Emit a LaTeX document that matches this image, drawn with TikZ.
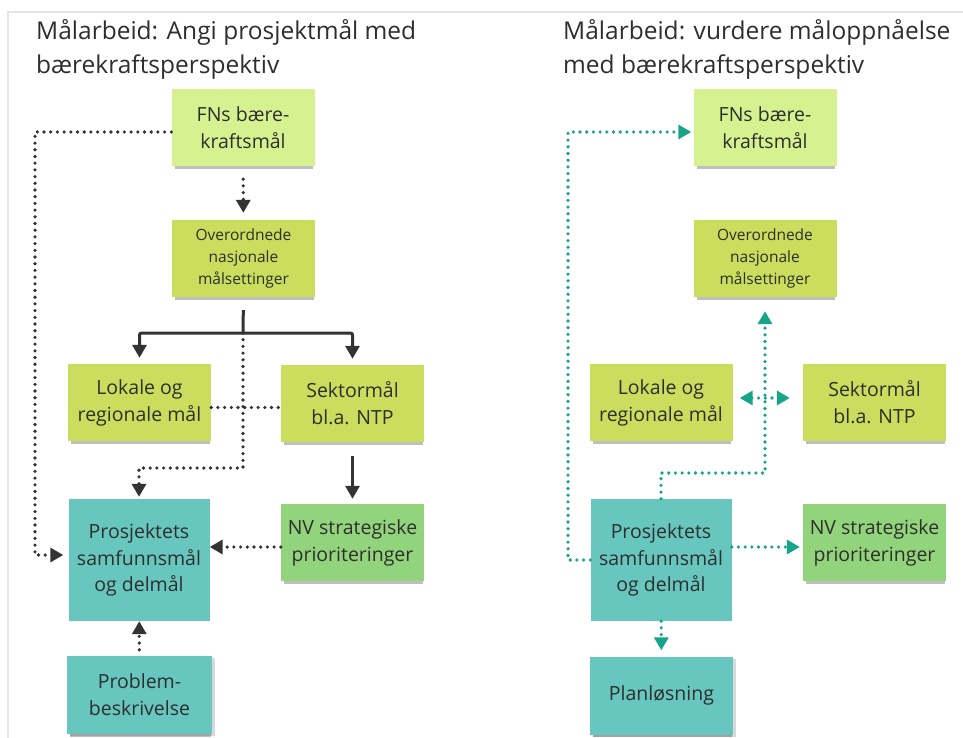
\documentclass[tikz,border=0pt]{standalone}
\usepackage{fontspec}
\setmainfont{Open Sans}
\usetikzlibrary{arrows.meta,shadows}
\definecolor{framegray}{HTML}{E6E6E6}
\definecolor{textgray}{HTML}{2E2E2E}
\definecolor{arrowgray}{HTML}{333333}
\definecolor{arrowteal}{HTML}{17A589}
\definecolor{fnsgreen}{HTML}{D6F290}
\definecolor{limegreen}{HTML}{CADD5C}
\definecolor{nvgreen}{HTML}{92D47B}
\definecolor{projteal}{HTML}{67C7BE}

\begin{document}
\begin{tikzpicture}[x=1pt, y=-1pt,
    note/.style={rectangle, minimum width=143pt, minimum height=77pt, align=center,
                 text=textgray, inner sep=2pt, font=\fontsize{19.5}{27}\selectfont,
                 drop shadow={shadow xshift=1pt, shadow yshift=-4pt, shadow scale=0.97,
                              opacity=0.25, fill=black}},
    smallnote/.style={note, font=\fontsize{15.5}{22}\selectfont},
    flat/.style={rectangle, minimum width=141pt, minimum height=122pt, align=center,
                 text=textgray, inner sep=2pt, font=\fontsize{19.5}{26.5}\selectfont},
    title/.style={anchor=north west, align=left, inner sep=0pt, text=textgray,
                  font=\fontsize{24.5}{34}\selectfont},
    solidarr/.style={-{Triangle[length=13pt, width=14pt]}, line width=3pt, arrowgray},
    solidline/.style={line width=3pt, arrowgray},
    dotline/.style={line width=3.6pt, line cap=round, dash pattern=on 0pt off 6.7pt, arrowgray},
    dotarr/.style={dotline, -{Triangle[length=13pt, width=14pt]}},
    tealarr/.style={dotline, arrowteal, -{Triangle[length=13pt, width=14pt]}},
    tealdbl/.style={dotline, arrowteal, {Triangle[length=13pt, width=14pt]}-{Triangle[length=13pt, width=14pt]}}
]
\fill[white] (0,0) rectangle (963,738);
\useasboundingbox (0,0) rectangle (963,738);
\draw[framegray, line width=2pt] (963,12) -- (8,12) -- (8,738);

% Left panel: angi prosjektmaal
\node[title] (titleL) at (36,19) {Målarbeid: Angi prosjektmål med\\bærekraftsperspektiv};

\node[note, fill=fnsgreen] (fns) at (243,127.5) {FNs bære-\\kraftsmål};
\node[smallnote, fill=limegreen] (ovr) at (243.5,258.5) {Overordnede\\nasjonale\\målsettinger};
\node[note, fill=limegreen] (lok) at (139.5,402.5) {Lokale og\\regionale mål};
\node[note, fill=limegreen] (sek) at (352.5,403.5) {Sektormål\\bl.a. NTP};
\node[flat, fill=projteal] (pro) at (139,560) {Prosjektets\\samfunnsmål\\og delmål};
\node[note, fill=nvgreen] (nvs) at (352.5,542.5) {NV strategiske\\prioriteringer};
\node[note, fill=projteal, minimum width=145pt, minimum height=78pt,
      drop shadow={shadow yshift=-2pt, opacity=0.15, fill=black}] (prb) at (139.5,695) {Problem-\\beskrivelse};

\coordinate (split) at (243,333);
\coordinate (crossl) at (243,468);
\coordinate (leftrail) at (35,132);

\draw[dotarr, shorten <=13pt, shorten >=7pt] (fns) -- (ovr);
\draw[solidline, shorten <=13pt] (ovr.south) -- (split);
\draw[solidarr, rounded corners=2pt, shorten >=6pt] (split) -| (lok.north);
\draw[solidarr, rounded corners=2pt, shorten >=6pt] (split) -| (sek.north);
\draw[dotarr, shorten >=2pt] (split) -- (crossl) -| (pro.north);
\draw[dotline] ([yshift=-5pt]lok.east) -- ([yshift=-5pt]lok.east -| sek.west);
\draw[dotarr, shorten >=5pt] ([yshift=-4.5pt]fns.west) -| (leftrail) |- ([yshift=5pt]pro.west);
\draw[solidarr, shorten <=14pt, shorten >=5pt] (sek) -- (nvs);
\draw[dotarr] ([yshift=-4.5pt]nvs.west) -- ([yshift=-4.5pt]nvs.west -| pro.east);
\draw[dotarr, shorten <=6pt] (prb) -- (pro);

% Right panel: vurdere maaloppnaaelse
\node[title] (titleR) at (563,19) {Målarbeid: vurdere måloppnåelse\\med bærekraftsperspektiv};

\node[note, fill=fnsgreen] (fns2) at (765,128) {FNs bære-\\kraftsmål};
\node[smallnote, fill=limegreen] (ovr2) at (765,258.5) {Overordnede\\nasjonale\\målsettinger};
\node[note, fill=limegreen] (lok2) at (661,402.5) {Lokale og\\regionale mål};
\node[note, fill=limegreen] (sek2) at (874.5,402.5) {Sektormål\\bl.a. NTP};
\node[flat, fill=projteal] (pro2) at (661,560) {Prosjektets\\samfunnsmål\\og delmål};
\node[note, fill=nvgreen] (nvs2) at (874.5,542.5) {NV strategiske\\prioriteringer};
\node[note, fill=projteal, minimum width=143pt, minimum height=78pt,
      drop shadow={shadow yshift=-2pt, opacity=0.15, fill=black}] (pln) at (661.5,695.5) {Planløsning};

\coordinate (crossr) at (765,473);
\coordinate (rightrail) at (568,560);

\draw[tealarr, shorten >=2pt] (pro2.west) -- (rightrail) |- ([yshift=-4pt]fns2.west);
\draw[tealarr, shorten >=14pt] (pro2.north) |- (crossr) -- (ovr2.south);
\draw[tealdbl, shorten <=7pt, shorten >=13pt] ([yshift=4.5pt]lok2.east) -- ([yshift=4.5pt]lok2.east -| sek2.west);
\draw[tealarr, shorten >=3pt] ([yshift=-4.5pt]nvs2.west -| pro2.east) -- ([yshift=-4.5pt]nvs2.west);
\draw[tealarr, shorten >=6pt] (pro2) -- (pln);
\end{tikzpicture}
\end{document}
